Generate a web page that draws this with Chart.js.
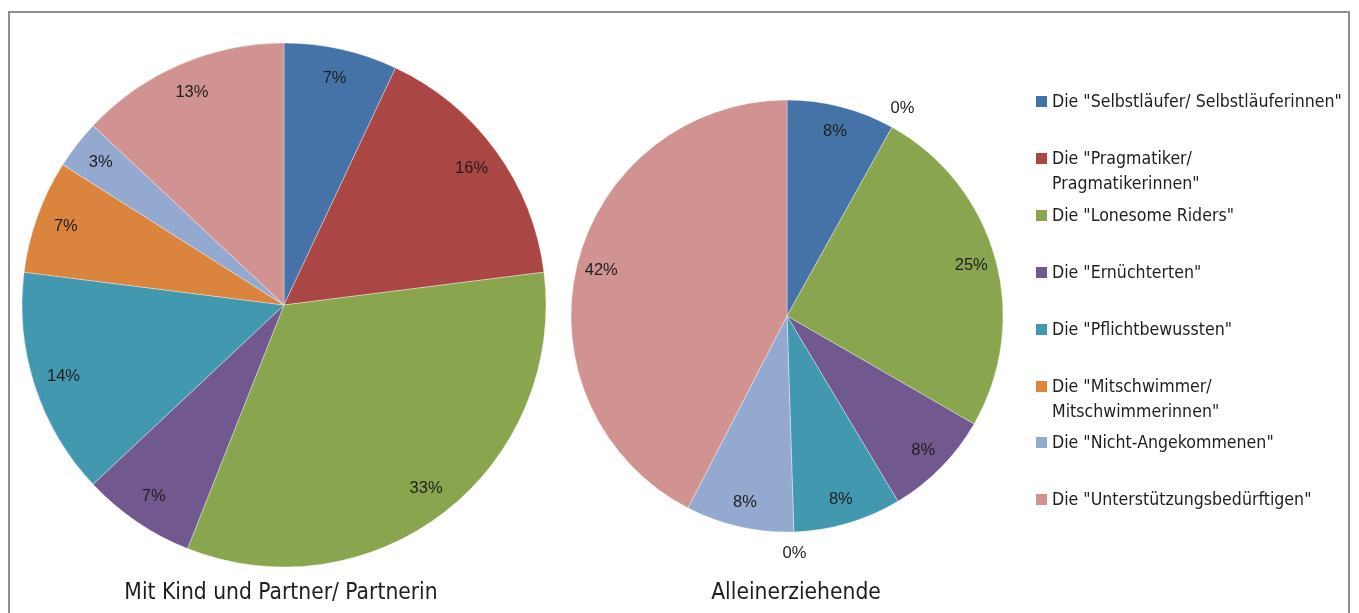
<!DOCTYPE html>
<html>
<head>
<meta charset="utf-8">
<script src="https://cdn.jsdelivr.net/npm/chart.js@4/dist/chart.umd.min.js"></script>
<style>
  html, body { margin: 0; padding: 0; background: #fff; width: 1359px; height: 613px; overflow: hidden; }
  #frame { position: absolute; left: 8px; top: 11px; width: 1342px; height: 640px; border: 2px solid #8f8f8f; box-sizing: border-box; }
  canvas { position: absolute; }
  .title, .leg { position: absolute; font-family: "Liberation Sans Narrow", "DejaVu Sans Condensed", "Roboto Condensed", sans-serif; color: #1e1e1e; white-space: nowrap; }
  .title { font-size: 22.6px; transform: translateX(-50%); }
  .leg { font-size: 17.6px; line-height: 25px; left: 1036px; }
  .leg .sw { position: absolute; left: 0; top: 7px; width: 11px; height: 11px; }
  .leg .tx { position: absolute; left: 16px; top: 0; }
</style>
</head>
<body>
<div id="frame"></div>
<canvas id="pieLeft" width="560" height="560" style="left:3.5px; top:25px; width:560px; height:560px;"></canvas>
<canvas id="pieRight" width="520" height="520" style="left:527px; top:56px; width:520px; height:520px;"></canvas>
<div class="title" style="left:281px; top:578px;">Mit Kind und Partner/ Partnerin</div>
<div class="title" style="left:796px; top:578px;">Alleinerziehende</div>
<div id="legend"></div>
<script>
// Gruppen (Reihenfolge im Uhrzeigersinn ab 12 Uhr)
const categories = [
  ['Die "Selbstläufer/ Selbstläuferinnen"'],
  ['Die "Pragmatiker/', 'Pragmatikerinnen"'],
  ['Die "Lonesome Riders"'],
  ['Die "Ernüchterten"'],
  ['Die "Pflichtbewussten"'],
  ['Die "Mitschwimmer/', 'Mitschwimmerinnen"'],
  ['Die "Nicht-Angekommenen"'],
  ['Die "Unterstützungsbedürftigen"']
];
const colors = ['#4572A7', '#AA4643', '#89A54E', '#71588F', '#4198AF', '#DB843D', '#93A9CF', '#D19392'];

// Anteile in Prozent
const withPartner = [7, 16, 33, 7, 14, 7, 3, 13];
const singleParent = [8, 0, 25, 8, 8, 0, 8, 42];

const chartTitles = ['Mit Kind und Partner/ Partnerin', 'Alleinerziehende'];

// Prozentwerte in den Segmenten; Nullwerte außerhalb des Kreises
const sliceLabels = {
  id: 'sliceLabels',
  afterDatasetsDraw(chart) {
    const ctx = chart.ctx;
    const meta = chart.getDatasetMeta(0);
    const values = chart.data.datasets[0].data;
    ctx.save();
    ctx.font = '16.5px "Liberation Sans", Arial, sans-serif';
    ctx.fillStyle = '#1e1e1e';
    ctx.textAlign = 'center';
    ctx.textBaseline = 'middle';
    meta.data.forEach((arc, i) => {
      const p = arc.getProps(['x', 'y', 'startAngle', 'endAngle', 'outerRadius'], true);
      const mid = (p.startAngle + p.endAngle) / 2;
      const f = values[i] === 0 ? 1.1 : 0.885;
      const r = p.outerRadius * f;
      ctx.fillText(values[i] + '%', p.x + Math.cos(mid) * r, p.y + Math.sin(mid) * r);
    });
    ctx.restore();
  }
};

function makePie(id, values, radius) {
  return new Chart(document.getElementById(id), {
    type: 'pie',
    data: {
      labels: categories.map(c => c.join(' ')),
      datasets: [{
        data: values,
        backgroundColor: colors,
        borderColor: 'rgba(255,255,255,0.6)',
        borderWidth: 0.6
      }]
    },
    options: {
      responsive: false,
      animation: false,
      radius: radius,
      layout: { padding: 0 },
      plugins: { legend: { display: false }, tooltip: { enabled: false } }
    },
    plugins: [sliceLabels]
  });
}

makePie('pieLeft', withPartner, 262);
makePie('pieRight', singleParent, 216);

// Legende
const legend = document.getElementById('legend');
categories.forEach((lines, i) => {
  const item = document.createElement('div');
  item.className = 'leg';
  item.style.top = (89 + i * 56.9) + 'px';
  const sw = document.createElement('div');
  sw.className = 'sw';
  sw.style.background = colors[i];
  const tx = document.createElement('div');
  tx.className = 'tx';
  tx.innerHTML = lines.map(l => l.replace(/&/g, '&amp;').replace(/</g, '&lt;')).join('<br>');
  item.appendChild(sw);
  item.appendChild(tx);
  legend.appendChild(item);
});
</script>
</body>
</html>
